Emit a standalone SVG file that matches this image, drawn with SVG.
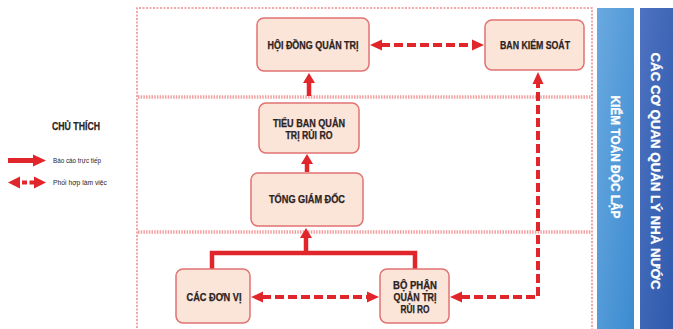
<svg xmlns="http://www.w3.org/2000/svg" width="673" height="329" viewBox="0 0 673 329">
<defs>
<style>
.frame{fill:none;stroke:#ee8a8a;stroke-width:1.5;stroke-dasharray:2 1.5}
.sep{fill:none;stroke:#f2a0a0;stroke-width:3.5;stroke-dasharray:1.5 1.2}
.node rect{fill:#fbe4d8;stroke:#e27272;stroke-width:1.5}
.node text{font-family:"Liberation Sans",Arial,sans-serif;font-weight:bold;font-size:10px;fill:#2b2222;stroke:#2b2222;stroke-width:0.25;text-anchor:middle}
.solid{fill:none;stroke:#e1262b;stroke-width:4.5}
.dash{fill:none;stroke:#e1262b;stroke-width:4;stroke-dasharray:9 4}
.head{fill:#e1262b}
.bar text{font-family:"Liberation Sans",Arial,sans-serif;font-weight:bold;fill:#ffffff;stroke:#ffffff;stroke-width:0.3;text-anchor:middle}
.leg{font-family:"Liberation Sans",Arial,sans-serif;fill:#2b2222}
</style>
<linearGradient id="g1" x1="0" y1="0" x2="1" y2="1">
<stop offset="0" stop-color="#6aa9e0"/>
<stop offset="1" stop-color="#3c8bd0"/>
</linearGradient>
<linearGradient id="g2" x1="0" y1="0" x2="1" y2="1">
<stop offset="0" stop-color="#4d72c0"/>
<stop offset="1" stop-color="#2f5aad"/>
</linearGradient>
</defs>
<rect width="673" height="329" fill="#ffffff"/>

<g id="frame">
<path class="frame" d="M137 335 V8 H592 V335"/>
<line class="sep" x1="138" y1="97" x2="591" y2="97"/>
<line class="sep" x1="138" y1="232" x2="591" y2="232"/>
</g>

<g id="bar-kiem-toan" class="bar">
<rect x="597" y="8" width="37" height="321" fill="url(#g1)"/>
<text transform="translate(616,157) rotate(90)" y="5" font-size="13" textLength="123" lengthAdjust="spacingAndGlyphs">KIỂM TOÁN ĐỘC LẬP</text>
</g>
<g id="bar-co-quan" class="bar">
<rect x="640" y="8" width="33" height="321" fill="url(#g2)"/>
<text transform="translate(656,171) rotate(90)" y="5" font-size="13.5" textLength="237" lengthAdjust="spacingAndGlyphs">CÁC CƠ QUAN QUẢN LÝ NHÀ NƯỚC</text>
</g>

<g id="legend">
<text class="leg" x="52" y="130" font-size="11" font-weight="bold" stroke="#2b2222" stroke-width="0.25" textLength="48" lengthAdjust="spacingAndGlyphs">CHỦ THÍCH</text>
<rect x="8" y="158" width="26" height="5" class="head"/>
<path class="head" d="M33 154.5 L46 160.5 L33 166.5 Z"/>
<text class="leg" x="53" y="163" font-size="8" textLength="48" lengthAdjust="spacingAndGlyphs">Báo cáo trực tiếp</text>
<path class="head" d="M20 176.5 L8 182.5 L20 188.5 Z"/>
<rect x="22" y="180.5" width="5" height="4" class="head"/>
<rect x="29.5" y="180.5" width="5" height="4" class="head"/>
<path class="head" d="M34 176.5 L46 182.5 L34 188.5 Z"/>
<text class="leg" x="53" y="185" font-size="8" textLength="54" lengthAdjust="spacingAndGlyphs">Phối hợp làm việc</text>
</g>

<g id="connectors">
<path class="dash" d="M381 45 H473"/>
<path class="head" d="M370 45 L382 39.5 L382 50.5 Z"/>
<path class="head" d="M484 45 L472 39.5 L472 50.5 Z"/>
<path class="solid" d="M309 96 V82"/>
<path class="head" d="M309 73 L315 83 L303 83 Z"/>
<path class="solid" d="M307 172 V163"/>
<path class="head" d="M307 154 L313 164 L301 164 Z"/>
<path class="solid" d="M212 269 V253 H415 V269"/>
<path class="solid" d="M306 253 V237"/>
<path class="head" d="M306 228 L312 238 L300 238 Z"/>
<path class="dash" d="M262 297 H368"/>
<path class="head" d="M251 297 L263 291.5 L263 302.5 Z"/>
<path class="head" d="M379 297 L367 291.5 L367 302.5 Z"/>
<path class="dash" d="M461 297 H538 V83"/>
<path class="head" d="M450 297 L462 291.5 L462 302.5 Z"/>
<path class="head" d="M538 72 L543.5 84 L532.5 84 Z"/>
</g>

<g id="hoi-dong-quan-tri" class="node">
<rect x="257" y="18" width="112" height="53" rx="7"/>
<text x="313" y="48.5" textLength="91" lengthAdjust="spacingAndGlyphs">HỘI ĐỒNG QUẢN TRỊ</text>
</g>
<g id="ban-kiem-soat" class="node">
<rect x="485" y="20" width="99" height="50" rx="7"/>
<text x="535" y="48.5" textLength="70" lengthAdjust="spacingAndGlyphs">BAN KIỂM SOÁT</text>
</g>
<g id="tieu-ban" class="node">
<rect x="259" y="103" width="100" height="50" rx="7"/>
<text x="309" y="126.5" textLength="72" lengthAdjust="spacingAndGlyphs">TIỂU BAN QUẢN</text>
<text x="309" y="138.5" textLength="47" lengthAdjust="spacingAndGlyphs">TRỊ RỦI RO</text>
</g>
<g id="tong-giam-doc" class="node">
<rect x="251" y="173" width="112" height="53" rx="7"/>
<text x="307" y="202.5" textLength="76" lengthAdjust="spacingAndGlyphs">TỔNG GIÁM ĐỐC</text>
</g>
<g id="cac-don-vi" class="node">
<rect x="176" y="269" width="74" height="54" rx="7"/>
<text x="214" y="300.5" textLength="55" lengthAdjust="spacingAndGlyphs">CÁC ĐƠN VỊ</text>
</g>
<g id="bo-phan" class="node">
<rect x="380" y="269" width="69" height="54" rx="7"/>
<text x="415" y="288.5" textLength="44" lengthAdjust="spacingAndGlyphs">BỘ PHẬN</text>
<text x="415" y="300.5" textLength="43" lengthAdjust="spacingAndGlyphs">QUẢN TRỊ</text>
<text x="415" y="312.5" textLength="29" lengthAdjust="spacingAndGlyphs">RỦI RO</text>
</g>
</svg>
